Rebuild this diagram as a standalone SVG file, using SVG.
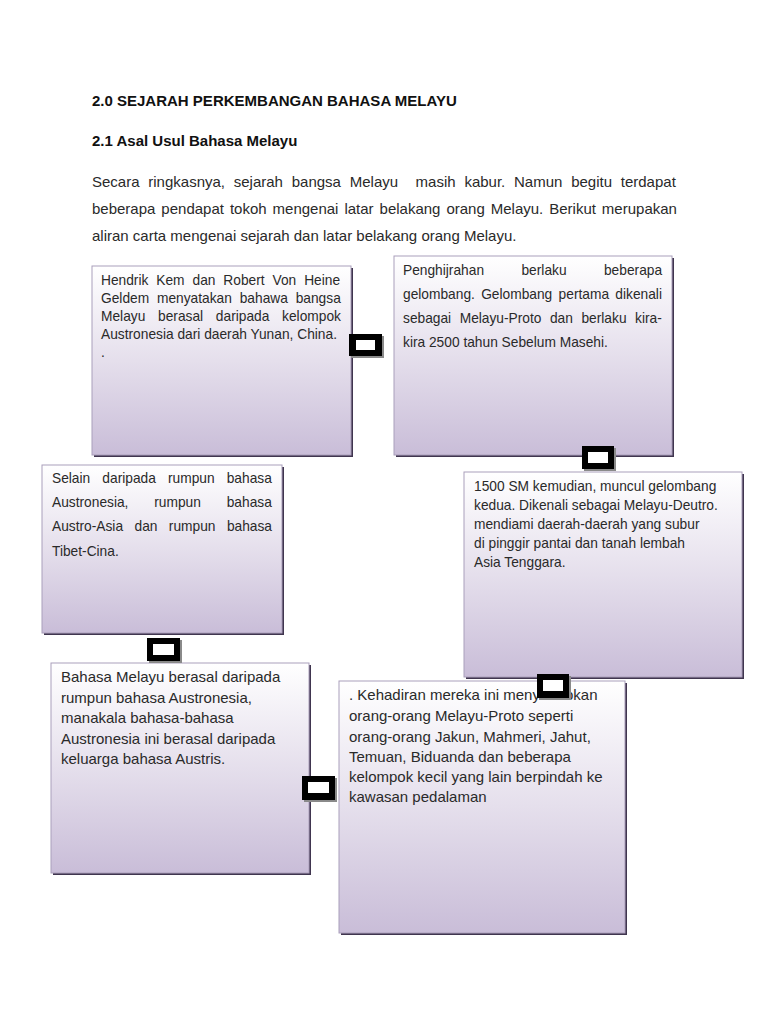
<svg xmlns="http://www.w3.org/2000/svg" width="768" height="1024" viewBox="0 0 768 1024">
<style>
.h{font-family:"Liberation Sans",Arial,sans-serif;font-weight:bold;font-size:15px;fill:#111}
.p{font-family:"Liberation Sans",Arial,sans-serif;font-size:15px;fill:#2a2a2a}
.s{font-family:"Liberation Sans",Arial,sans-serif;font-size:13.75px;fill:#2a2a2a}
.m{font-family:"Liberation Sans",Arial,sans-serif;font-size:15px;fill:#2a2a2a}
.box{fill:url(#g);stroke:#aa9fbb;stroke-width:1}
.sh{fill:#40354f}
.cs{fill:#8a8a8a}
.cb{fill:#000}
.ci{fill:#fff}
</style>
<defs>
<linearGradient id="g" x1="0" y1="0" x2="0" y2="1">
<stop offset="0" stop-color="#ffffff"/>
<stop offset="0.5" stop-color="#e5dfec"/>
<stop offset="1" stop-color="#c9bdd8"/>
</linearGradient>
</defs>
<rect width="768" height="1024" fill="#fff"/>
<g id="header">
<text class="h" x="92" y="106">2.0 SEJARAH PERKEMBANGAN BAHASA MELAYU</text>
<text class="h" x="92" y="146">2.1 Asal Usul Bahasa Melayu</text>
<text class="p" x="92" y="187" style="word-spacing:4.6px">Secara ringkasnya, sejarah bangsa Melayu&#160; masih kabur. Namun begitu terdapat</text>
<text class="p" x="92" y="214" style="word-spacing:1.8px">beberapa pendapat tokoh mengenai latar belakang orang Melayu. Berikut merupakan</text>
<text class="p" x="92" y="241">aliran carta mengenai sejarah dan latar belakang orang Melayu.</text>
</g>
<g id="node1">
<rect class="sh" x="94" y="268" width="259" height="189"/>
<rect class="box" x="92" y="266" width="259" height="189"/>
<text class="s" x="101" y="285" style="word-spacing:4.1px">Hendrik Kem dan Robert Von Heine</text>
<text class="s" x="101" y="303" style="word-spacing:4.0px">Geldem menyatakan bahawa bangsa</text>
<text class="s" x="101" y="321" style="word-spacing:8.9px">Melayu berasal daripada kelompok</text>
<text class="s" x="101" y="339">Austronesia dari daerah Yunan, China.</text>
<text class="s" x="101" y="357">.</text>
</g>
<g id="node2">
<rect class="sh" x="396" y="258" width="278" height="199"/>
<rect class="box" x="394" y="256" width="278" height="199"/>
<text class="s" x="403" y="275" style="word-spacing:33.6px">Penghijrahan berlaku beberapa</text>
<text class="s" x="403" y="299" style="word-spacing:2.5px">gelombang. Gelombang pertama dikenali</text>
<text class="s" x="403" y="323" style="word-spacing:4.7px">sebagai Melayu-Proto dan berlaku kira-</text>
<text class="s" x="403" y="347">kira 2500 tahun Sebelum Masehi.</text>
</g>
<g id="node3">
<rect class="sh" x="44" y="467" width="240" height="168"/>
<rect class="box" x="42" y="465" width="240" height="168"/>
<text class="s" x="52" y="483" style="word-spacing:8.3px">Selain daripada rumpun bahasa</text>
<text class="s" x="52" y="507" style="word-spacing:22px">Austronesia, rumpun bahasa</text>
<text class="s" x="52" y="531" style="word-spacing:7.6px">Austro-Asia dan rumpun bahasa</text>
<text class="s" x="52" y="556">Tibet-Cina.</text>
</g>
<g id="node4">
<rect class="sh" x="466" y="474" width="278" height="205"/>
<rect class="box" x="464" y="472" width="278" height="205"/>
<text class="s" x="474" y="491">1500 SM kemudian, muncul gelombang</text>
<text class="s" x="474" y="510">kedua. Dikenali sebagai Melayu-Deutro.</text>
<text class="s" x="474" y="529">mendiami daerah-daerah yang subur</text>
<text class="s" x="474" y="548">di pinggir pantai dan tanah lembah</text>
<text class="s" x="474" y="567">Asia Tenggara.</text>
</g>
<g id="node5">
<rect class="sh" x="53" y="665" width="258" height="210"/>
<rect class="box" x="51" y="663" width="258" height="210"/>
<text class="m" x="61" y="682">Bahasa Melayu berasal daripada</text>
<text class="m" x="61" y="703">rumpun bahasa Austronesia,</text>
<text class="m" x="61" y="723">manakala bahasa-bahasa</text>
<text class="m" x="61" y="744">Austronesia ini berasal daripada</text>
<text class="m" x="61" y="764">keluarga bahasa Austris.</text>
</g>
<g id="node6">
<rect class="sh" x="341" y="683" width="286" height="252"/>
<rect class="box" x="339" y="681" width="286" height="252"/>
<text class="m" x="349" y="700">. Kehadiran mereka ini menyebabkan</text>
<text class="m" x="349" y="721">orang-orang Melayu-Proto seperti</text>
<text class="m" x="349" y="742">orang-orang Jakun, Mahmeri, Jahut,</text>
<text class="m" x="349" y="762">Temuan, Biduanda dan beberapa</text>
<text class="m" x="349" y="782">kelompok kecil yang lain berpindah ke</text>
<text class="m" x="349" y="802">kawasan pedalaman</text>
</g>
<g id="connectors">
<g>
<rect class="cs" x="351" y="336" width="33" height="22"/>
<rect class="cb" x="349" y="334" width="33" height="22"/>
<rect class="ci" x="356" y="340" width="19" height="10"/>
</g>
<g>
<rect class="cs" x="584" y="448" width="32" height="23"/>
<rect class="cb" x="582" y="446" width="32" height="23"/>
<rect class="ci" x="588" y="452" width="20" height="11"/>
</g>
<g>
<rect class="cs" x="149" y="640" width="33" height="23"/>
<rect class="cb" x="147" y="638" width="33" height="23"/>
<rect class="ci" x="153" y="644" width="21" height="11"/>
</g>
<g>
<rect class="cs" x="304" y="778" width="33" height="24"/>
<rect class="cb" x="302" y="776" width="33" height="24"/>
<rect class="ci" x="308" y="782" width="21" height="11"/>
</g>
<g>
<rect class="cs" x="539" y="676" width="32" height="24"/>
<rect class="cb" x="537" y="674" width="32" height="24"/>
<rect class="ci" x="543" y="680" width="20" height="11"/>
</g>
</g>
</svg>
